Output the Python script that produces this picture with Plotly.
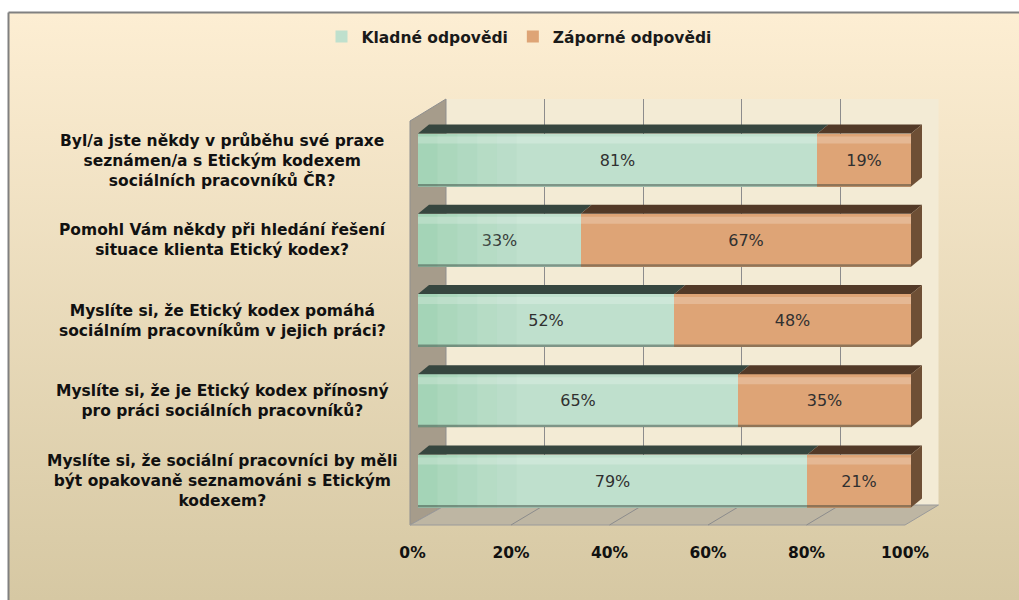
import base64
import plotly.graph_objects as go

# ---- data -------------------------------------------------------------
questions = [
    "Byl/a jste někdy v průběhu své praxe<br>seznámen/a s Etickým kodexem<br>sociálních pracovníků ČR?",
    "Pomohl Vám někdy při hledání řešení<br>situace klienta Etický kodex?",
    "Myslíte si, že Etický kodex pomáhá<br>sociálním pracovníkům v jejich práci?",
    "Myslíte si, že je Etický kodex přínosný<br>pro práci sociálních pracovníků?",
    "Myslíte si, že sociální pracovníci by měli<br>být opakovaně seznamováni s Etickým<br>kodexem?",
]
positive = [81, 33, 52, 65, 79]
negative = [19, 67, 48, 35, 21]
series_names = ["Kladné odpovědi", "Záporné odpovědi"]
tick_values = [0, 20, 40, 60, 80, 100]
tick_labels = ["0%", "20%", "40%", "60%", "80%", "100%"]

# ---- geometry (pixels of a 1019 x 600 canvas) --------------------------
W, H = 1019, 600


def px(x):
    return x / W


def py(y):
    return 1 - y / H


BAR_X0, UNIT_PX = 418, 4.93         # bar scale: position of 0 % and pixels per 1 %
X2_MAX = 104                        # a little room right of 100 % for the end caps
ROW_TOP, ROW_BOTTOM = 119.9, 521.1  # band of the five category rows
BACK_X0, BACK_X1 = 446, 938.5       # back wall scale
WALL_TOP, WALL_BOTTOM = 99, 505
FRONT_X0, FRONT_X1 = 412.5, 905     # floor front edge scale
FLOOR_FRONT_Y = 525
SIDE_X, SIDE_TOP = 410, 121

ROW_PX = (ROW_BOTTOM - ROW_TOP) / len(questions)
BAR_W = 53 / ROW_PX
DEPTH_DX = 11 / UNIT_PX            # depth offset of the bar top faces
DEPTH_DY = 9 / ROW_PX
PIX_Y = 1 / ROW_PX                 # one pixel in row units

GREEN, GREEN_TOP, GREEN_SHADE = "#BFE0CD", "#36463F", "#8ECBA5"
ORANGE, ORANGE_TOP, ORANGE_CAP = "#DEA476", "#523927", "#6E4F35"
LABEL_FONT = "DejaVu Sans"

rows = list(range(len(questions)))

fig = go.Figure()

# invisible anchor traces so the wall and floor axes get drawn
fig.add_trace(go.Scatter(x=[50], y=[0.5], mode="markers", marker=dict(opacity=0),
                         hoverinfo="skip", showlegend=False))
fig.add_trace(go.Scatter(x=[50], y=[2], xaxis="x3", yaxis="y2", mode="markers",
                         marker=dict(opacity=0), hoverinfo="skip", showlegend=False))

for name, vals, col, edge in [(series_names[0], positive, GREEN, "#8E8E8E"),
                              (series_names[1], negative, ORANGE, "#8A5E3C")]:
    fig.add_trace(go.Bar(
        name=name, y=rows, x=vals, orientation="h", width=BAR_W,
        xaxis="x2", yaxis="y2",
        marker=dict(color=col, line=dict(width=0)),
        text=[f"{v}%" for v in vals], textposition="inside", insidetextanchor="middle",
        textangle=0,
        textfont=dict(family=LABEL_FONT, size=16, color="#303030"),
        hoverinfo="skip",
    ))

shapes = []

# outer frame lines (top and left)
shapes.append(dict(type="line", xref="paper", yref="paper", x0=px(8.5), x1=1,
                   y0=py(12.5), y1=py(12.5), line=dict(color="#808080", width=2)))
shapes.append(dict(type="line", xref="paper", yref="paper", x0=px(8.5), x1=px(8.5),
                   y0=py(12.5), y1=0, line=dict(color="#808080", width=2)))

# back wall, side wall, floor
shapes.append(dict(type="rect", xref="paper", yref="paper", layer="below",
                   x0=px(BACK_X0), x1=px(BACK_X1), y0=py(WALL_BOTTOM), y1=py(WALL_TOP),
                   fillcolor="#F3EBD5", line=dict(width=0)))
shapes.append(dict(type="path", xref="paper", yref="paper", layer="below",
                   path=(f"M{px(SIDE_X)},{py(SIDE_TOP)} L{px(BACK_X0)},{py(WALL_TOP)} "
                         f"L{px(BACK_X0)},{py(WALL_BOTTOM)} L{px(SIDE_X)},{py(FLOOR_FRONT_Y)} Z"),
                   fillcolor="#A69C8B", line=dict(color="#8F8F8F", width=1)))
shapes.append(dict(type="path", xref="paper", yref="paper", layer="below",
                   path=(f"M{px(BACK_X0)},{py(WALL_BOTTOM)} L{px(BACK_X1)},{py(WALL_BOTTOM)} "
                         f"L{px(FRONT_X1)},{py(FLOOR_FRONT_Y)} L{px(SIDE_X)},{py(FLOOR_FRONT_Y)} Z"),
                   fillcolor="#BEB6A3", line=dict(color="#9A9A9A", width=1)))

# floor grid lines joining the front ticks to the back wall grid
for t in tick_values[1:-1]:
    xb = BACK_X0 + (BACK_X1 - BACK_X0) * t / 100
    xf = FRONT_X0 + (FRONT_X1 - FRONT_X0) * t / 100
    shapes.append(dict(type="line", xref="paper", yref="paper", layer="below",
                       x0=px(xb), y0=py(WALL_BOTTOM), x1=px(xf), y1=py(FLOOR_FRONT_Y),
                       line=dict(color="#8C8C8C", width=1)))

# shading, top faces and end caps giving the bars depth
for i in rows:
    top = i - BAR_W / 2
    bot = i + BAR_W / 2
    end = positive[i] + negative[i]

    # darker green fading in from the left end
    for k, op in enumerate([0.55, 0.42, 0.30, 0.19, 0.09]):
        a = 4 * k
        shapes.append(dict(type="rect", xref="x2", yref="y2", layer="above",
                           x0=a, x1=min(a + 4, positive[i]), y0=top, y1=bot,
                           fillcolor=GREEN_SHADE, opacity=op, line=dict(width=0)))
    # light highlight just under the top edge
    shapes.append(dict(type="rect", xref="x2", yref="y2", layer="above",
                       x0=0, x1=end, y0=top + 3 * PIX_Y, y1=top + 10 * PIX_Y,
                       fillcolor="white", opacity=0.22, line=dict(width=0)))
    # thin shadow along the bottom edge
    shapes.append(dict(type="rect", xref="x2", yref="y2", layer="above",
                       x0=0, x1=end, y0=bot - 2.5 * PIX_Y, y1=bot,
                       fillcolor="#2E3A33", opacity=0.45, line=dict(width=0)))

    segs = [(0, positive[i], GREEN_TOP), (positive[i], end, ORANGE_TOP)]
    for a, b, c in segs:
        shapes.append(dict(type="path", xref="x2", yref="y2", layer="above",
                           path=(f"M{a},{top} L{b},{top} L{b + DEPTH_DX},{top - DEPTH_DY} "
                                 f"L{a + DEPTH_DX},{top - DEPTH_DY} Z"),
                           fillcolor=c, line=dict(width=0)))
    shapes.append(dict(type="path", xref="x2", yref="y2", layer="above",
                       path=(f"M{end},{top} L{end + DEPTH_DX},{top - DEPTH_DY} "
                             f"L{end + DEPTH_DX},{bot - DEPTH_DY} L{end},{bot} Z"),
                       fillcolor=ORANGE_CAP, line=dict(width=0)))

# category labels, centred blocks left of the bars
annotations = []
for i, q in enumerate(questions):
    annotations.append(dict(
        text=q, xref="paper", yref="y2", x=px(222), y=i,
        xanchor="center", yanchor="middle", align="center", showarrow=False,
        font=dict(family=LABEL_FONT, size=15.5, color="#111111", weight="bold"),
    ))

# background gradient of the chart area
svg = ("<svg xmlns='http://www.w3.org/2000/svg' width='1010' height='587' preserveAspectRatio='none'>"
       "<defs><linearGradient id='g' x1='0' y1='0' x2='0' y2='1'>"
       "<stop offset='0' stop-color='#FDEED3'/><stop offset='1' stop-color='#D6C8A3'/>"
       "</linearGradient></defs><rect width='100%' height='100%' fill='url(#g)'/></svg>")
bg_src = "data:image/svg+xml;base64," + base64.b64encode(svg.encode()).decode()

fig.update_layout(
    width=W, height=H, autosize=False,
    margin=dict(l=0, r=0, t=0, b=0, pad=0, autoexpand=False),
    paper_bgcolor="white", plot_bgcolor="rgba(0,0,0,0)",
    barmode="stack", bargap=0,
    showlegend=True,
    legend=dict(orientation="h", traceorder="normal",
                x=px(519), xanchor="center", y=py(37), yanchor="middle",
                bgcolor="rgba(0,0,0,0)",
                font=dict(family=LABEL_FONT, size=15.5, color="#1a1a1a", weight="bold")),
    images=[dict(source=bg_src, xref="paper", yref="paper", x=px(9), y=py(13),
                 sizex=1 - px(9), sizey=py(13), sizing="stretch", layer="below",
                 xanchor="left", yanchor="top")],
    shapes=shapes,
    annotations=annotations,
    # back wall grid
    xaxis=dict(domain=[px(BACK_X0), px(BACK_X1)], range=[0, 100], tickvals=tick_values,
               showgrid=True, gridcolor="#8C8C8C", gridwidth=1, showticklabels=False,
               ticks="", zeroline=False, showline=False, automargin=False, fixedrange=True),
    yaxis=dict(domain=[py(WALL_BOTTOM), py(WALL_TOP)], range=[0, 1], visible=False,
               automargin=False, fixedrange=True),
    # bars
    xaxis2=dict(domain=[px(BAR_X0), px(BAR_X0 + UNIT_PX * X2_MAX)], range=[0, X2_MAX],
                visible=False, anchor="y2", automargin=False, fixedrange=True),
    yaxis2=dict(domain=[py(ROW_BOTTOM), py(ROW_TOP)], range=[len(questions) - 0.5, -0.5],
                visible=False, anchor="x2", automargin=False, fixedrange=True),
    # front edge of the floor carrying the percentage ticks
    xaxis3=dict(domain=[px(FRONT_X0), px(FRONT_X1)], range=[0, 100],
                tickmode="array", tickvals=tick_values, ticktext=tick_labels,
                anchor="free", position=py(FLOOR_FRONT_Y),
                showgrid=False, zeroline=False, showline=False, ticks="",
                ticklabelstandoff=16, automargin=False,
                tickfont=dict(family=LABEL_FONT, size=15.5, color="#111111", weight="bold"),
                fixedrange=True),
)

fig.write_html("out.html")
